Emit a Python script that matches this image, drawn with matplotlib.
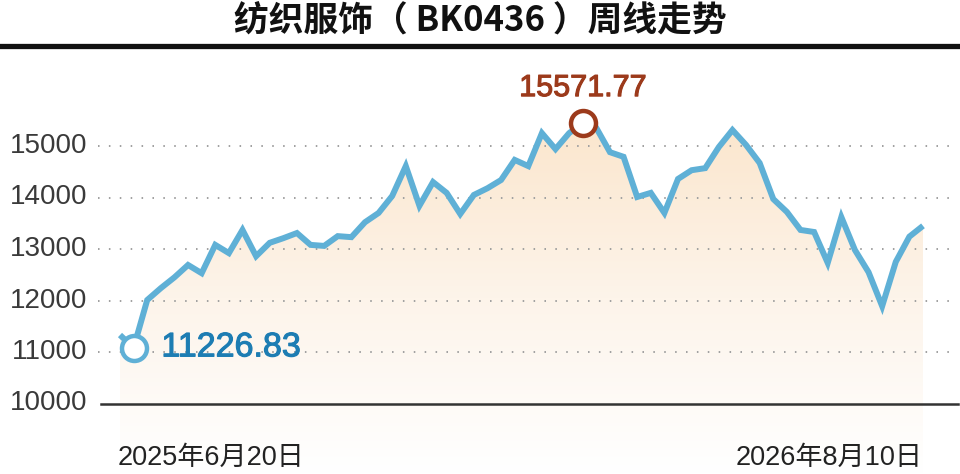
import numpy as np
import matplotlib.pyplot as plt
import matplotlib.transforms as mtransforms
import matplotlib.patheffects as pe
from matplotlib.colors import LinearSegmentedColormap
from matplotlib.lines import Line2D

title = "纺织服饰（ BK0436 ）周线走势"

# weekly close
values = [11330, 11080, 12010, 12240, 12450, 12690, 12530, 13080, 12920, 13370,
          12860, 13120, 13210, 13310, 13080, 13060, 13250, 13230, 13520, 13700,
          14030, 14610, 13840, 14300, 14090, 13680, 14050, 14180, 14340, 14730,
          14610, 15250, 14940, 15250, 15450, 15350, 14880, 14790, 14010, 14090,
          13700, 14360, 14530, 14570, 14980, 15310, 15020, 14670, 13970, 13720,
          13370, 13330, 12730, 13620, 12980, 12550, 11890, 12750, 13240, 13450]
y_ticks = [10000, 11000, 12000, 13000, 14000, 15000]
start_label = "2025年6月20日"
end_label = "2026年8月10日"
low_idx, low_text = 1, "11226.83"
high_idx, high_text = 34, "15571.77"

plt.rcParams['font.family'] = ['Noto Sans CJK SC', 'DejaVu Sans']
num_font = ['Liberation Sans', 'DejaVu Sans']
date_font = ['Liberation Sans', 'Noto Sans CJK SC']

W, H = 960, 474
fig = plt.figure(figsize=(9.6, 4.74), dpi=100)
ax = fig.add_axes([0, 0, 1, (H - 55) / H])
ax.axis('off')

x = np.arange(len(values))
step = 13.61
ybot = 10000 - (H - 403.5) / 51.5 * 1000
ytop = 10000 + (403.5 - 55) / 51.5 * 1000

# gradient area under the line
cmap = LinearSegmentedColormap.from_list("peach", ["#ffffff", "#fdf4ea", "#fbe6cd"])
grad = np.linspace(0, 1, 256).reshape(-1, 1)
im = ax.imshow(grad, cmap=cmap, origin='lower', aspect='auto',
               extent=[x[0], x[-1], ybot, max(values)], zorder=1)
poly = ax.fill_between(x, values, ybot, color='none', lw=0)
im.set_clip_path(poly.get_paths()[0], transform=ax.transData)
ax.set_xlim(-120 / step, (W - 120) / step)
ax.set_ylim(ybot, ytop)

# grid lines and axis
tr = mtransforms.blended_transform_factory(ax.transAxes, ax.transData)
for v in y_ticks[1:]:
    ax.axhline(v, xmin=98 / W, xmax=955 / W, color='#a0a0a0', lw=1.4,
               ls=(0, (0.8, 4.8)), zorder=2)
ax.axhline(y_ticks[0], xmin=101 / W, xmax=958 / W, color='#333333', lw=1.8, zorder=2)
for v in y_ticks:
    ax.text(87 / W, v, str(v), transform=tr, ha='right', va='center',
            fontsize=20, color='#3a3a3a', family=num_font)

ax.plot(x, values, color='#5fb0d6', lw=4.3, solid_joinstyle='miter',
        solid_capstyle='butt', zorder=3)

# low / high markers
blue_txt, red_txt = '#1d7db3', '#9c3a1b'
ax.plot(x[low_idx], values[low_idx], 'o', ms=18, mfc='white', mec='#5fb0d6',
        mew=3.2, zorder=4)
ax.annotate(low_text, (x[low_idx], values[low_idx]), xytext=(20, 0),
            textcoords='offset points', ha='left', va='center', fontsize=24.5,
            color=blue_txt, family=num_font, zorder=5,
            path_effects=[pe.withStroke(linewidth=0.8, foreground=blue_txt)])
ax.plot(x[high_idx], values[high_idx], 'o', ms=18, mfc='white', mec=red_txt,
        mew=3.2, zorder=4)
ax.annotate(high_text, (x[high_idx], values[high_idx]), xytext=(0, 25),
            textcoords='offset points', ha='center', va='center', fontsize=22,
            color=red_txt, family=num_font, zorder=5,
            path_effects=[pe.withStroke(linewidth=0.8, foreground=red_txt)])

# date labels
trx = mtransforms.blended_transform_factory(ax.transData, fig.transFigure)
ax.text(x[0] - 0.2, 1 - 458 / H, start_label, transform=trx, ha='left',
        va='center', fontsize=19.5, color='#222222', family=date_font)
ax.text(x[-1], 1 - 458 / H, end_label, transform=trx, ha='right',
        va='center', fontsize=19.5, color='#222222', family=date_font)

# title and rule
fig.text(0.5, 1 - 20 / H, title, ha='center', va='center', fontsize=25,
         fontweight='bold', color='#111111')
fig.add_artist(Line2D([0, 1], [1 - 46 / H, 1 - 46 / H], transform=fig.transFigure,
                      color='#111111', lw=3.8))

fig.savefig('out.png', dpi=100)
